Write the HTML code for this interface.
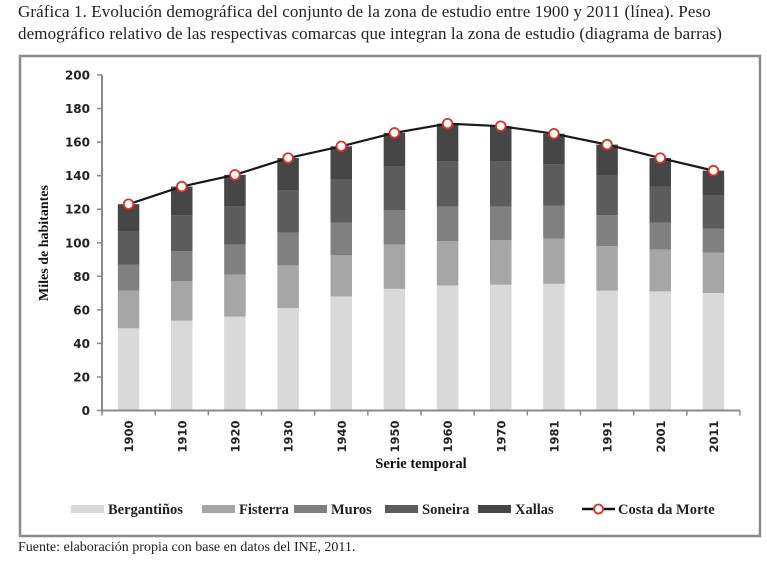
<!DOCTYPE html>
<html><head><meta charset="utf-8">
<style>
body{margin:0;background:#fff;width:767px;height:563px;overflow:hidden;position:relative;font-family:"Liberation Serif",serif;}
.title{position:absolute;left:18px;top:1px;font-size:17px;line-height:22px;color:#222;width:712px;letter-spacing:0.1px;}
.foot{position:absolute;left:18px;top:540px;font-size:14px;color:#222;}
svg{position:absolute;left:0;top:0;}
</style></head>
<body>
<div class="title">Gráfica 1. Evolución demográfica del conjunto de la zona de estudio entre 1900 y 2011 (línea). Peso demográfico relativo de las respectivas comarcas que integran la zona de estudio (diagrama de barras)</div>
<svg width="767" height="563" id="chart">
<rect x="20" y="56" width="740" height="480" fill="none" stroke="#8a8a8a" stroke-width="2.5"/>
</svg>
<div class="foot">Fuente: elaboración propia con base en datos del INE, 2011.</div>
<script>
const categories=["1900","1910","1920","1930","1940","1950","1960","1970","1981","1991","2001","2011"];
const bergantinos=[49,53.5,56,61,68,72.5,74.5,75,75.5,71.5,71,70];
const fisterra=[22.5,23.5,25,25.5,24.5,26.5,26.5,26.5,27,26.5,25,24];
const muros=[15.5,18,18,19.5,19.5,20.5,20.5,20,19.5,18.5,16,14.5];
const soneira=[20,21.5,22.5,25,25.5,26,27,27,24.5,23.5,21.5,19.5];
const xallas=[16,17,19,19.5,20,20,22.5,21,18.5,18.5,17,15];
const costaDaMorte=[123,133.5,140.5,150.5,157.5,165.5,171,169.5,165,158.5,150.5,143];
const yTicks=[0,20,40,60,80,100,120,140,160,180,200];
const seriesNames=["Bergantiños","Fisterra","Muros","Soneira","Xallas"];
const seriesData=[bergantinos,fisterra,muros,soneira,xallas];
const colors=["#d9d9d9","#a6a6a6","#808080","#5c5c5c","#464646"];

const NS="http://www.w3.org/2000/svg";
const svg=document.getElementById('chart');
const x0=102,x1=740,y0=410.5,yTop=75;
const bw=(x1-x0)/categories.length;
function y(v){return y0-(v/200)*(y0-yTop);}
function xc(i){return x0+bw*(i+0.5);}
function mk(t,a,p){const e=document.createElementNS(NS,t);for(const k in a)e.setAttribute(k,a[k]);(p||svg).appendChild(e);return e;}

const yAxis=mk('line',{x1:x0,y1:yTop,x2:x0,y2:y0,stroke:'#8a8a8a','stroke-width':2});


yTicks.forEach(v=>{
  const t=mk('line',{x1:x0-5,y1:y(v),x2:x0,y2:y(v),stroke:'#8a8a8a','stroke-width':1.5});
  
  
  const l=mk('text',{x:x0-12,y:y(v)+4.5,'text-anchor':'end','font-family':'DejaVu Sans, sans-serif','font-size':12,'font-weight':'bold',fill:'#222'});
  l.textContent=v;
  
  
});
const yt=mk('text',{x:0,y:0,transform:'translate(48,243) rotate(-90)','text-anchor':'middle','font-family':'Liberation Serif, serif','font-size':14,'font-weight':'bold',fill:'#111'});
yt.textContent='Miles de habitantes';



categories.forEach((c,i)=>{
  let acc=0;
  seriesData.forEach((s,k)=>{
    const r=mk('rect',{x:xc(i)-10.75,y:y(acc+s[i]),width:21.5,height:y(acc)-y(acc+s[i]),fill:colors[k]});
    
    
    acc+=s[i];
  });
});
const xAxis=mk('line',{x1:x0,y1:y0,x2:x1,y2:y0,stroke:'#8a8a8a','stroke-width':2});


for(let i=0;i<=categories.length;i++){
  const t=mk('line',{x1:x0+bw*i,y1:y0,x2:x0+bw*i,y2:y0+5,stroke:'#8a8a8a','stroke-width':1.5});
  
  
}
categories.forEach((c,i)=>{
  const l=mk('text',{x:0,y:0,transform:`translate(${xc(i)+4.5},${y0+10}) rotate(-90)`,'text-anchor':'end','font-family':'DejaVu Sans, sans-serif','font-size':11.5,'font-weight':'bold',fill:'#222'});
  l.textContent=c;
  
  
});
const xt=mk('text',{x:421,y:468,'text-anchor':'middle','font-family':'Liberation Serif, serif','font-size':14.5,'font-weight':'bold',fill:'#111'});
xt.textContent='Serie temporal';



const pl=mk('polyline',{points:costaDaMorte.map((v,i)=>xc(i)+','+y(v)).join(' '),fill:'none',stroke:'#1a1a1a','stroke-width':2.2});


costaDaMorte.forEach((v,i)=>{
  const p=mk('circle',{cx:xc(i),cy:y(v),r:4.8,fill:'#fff',stroke:'#e03020','stroke-width':1.8});
  
  
});

const lx=[71,202,294,385,478];
const ly=509;
seriesNames.forEach((n,k)=>{
  const g=mk('g',{});
  
  
  mk('rect',{x:lx[k],y:ly-4,width:33,height:8,fill:colors[k]},g);
  const t=mk('text',{x:lx[k]+37,y:ly+5,'font-family':'Liberation Serif, serif','font-size':14.5,'font-weight':'bold',fill:'#222'},g);
  t.textContent=n;
});
const lg=mk('g',{});


mk('line',{x1:582,y1:ly,x2:615,y2:ly,stroke:'#111','stroke-width':2.5},lg);
mk('circle',{cx:598.5,cy:ly,r:4.5,fill:'#fff',stroke:'#e03020','stroke-width':1.8},lg);
const lt=mk('text',{x:618,y:ly+5,'font-family':'Liberation Serif, serif','font-size':14.5,'font-weight':'bold',fill:'#222'},lg);
lt.textContent='Costa da Morte';
</script>
</body></html>
